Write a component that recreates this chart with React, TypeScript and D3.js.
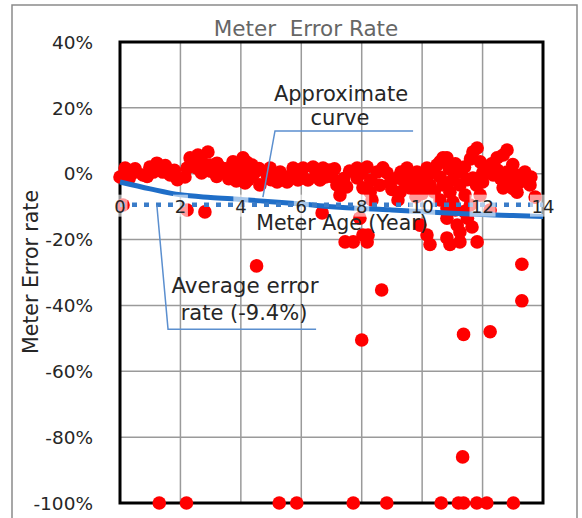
import * as d3 from "d3";
import React from "react";

// scatter: [meter age (year), error rate (%)]
const scatterPoints: [number, number][] = [
  [0.17, 1.7], [0.0, -1.0], [0.43, 0.2], [0.99, 2.0], [1.22, 3.2], [1.42, 0.5], [1.66, -0.4],
  [0.76, -0.4], [2.32, 4.8], [2.58, 5.7], [2.91, 6.6], [2.22, 1.7], [2.55, 1.7], [2.98, 2.6],
  [3.21, 3.2], [2.15, -1.0], [0.1, -9.5], [2.22, -11.0], [2.81, -11.6],
  [3.31, 2.0], [3.74, 3.6], [4.07, 4.8], [4.37, 2.6], [3.97, 0.5], [4.4, -0.4], [3.64, -0.4],
  [4.97, 1.7], [5.3, 0.5], [5.73, 1.7], [6.06, 1.7], [6.39, 2.0], [6.72, 1.7], [6.95, 1.1],
  [5.2, -2.5], [5.53, -2.5], [5.89, -1.9], [6.22, -1.9], [6.62, -1.9], [4.87, -0.4],
  [6.69, -11.9], [4.14, -2.8], [4.63, -3.4], [4.07, 1.1], [3.8, 1.7],
  [7.18, -3.4], [7.28, -6.5], [7.85, 1.7], [8.18, 2.0], [7.85, -1.3], [8.51, 0.5], [8.84, 0.2],
  [8.94, -2.8], [9.17, -1.3], [9.5, 1.7], [9.83, 0.5], [10.16, 1.7], [10.49, 2.6], [10.69, 4.8],
  [9.27, -5.6], [9.6, -4.3], [9.93, -3.4], [10.26, -3.4], [8.28, -5.6], [8.04, -4.3], [8.34, -8.0],
  [10.59, -8.0], [7.94, -13.5], [8.04, -18.6], [8.21, -18.6], [9.93, -15.6], [10.16, -18.6], [7.0, -0.8],
  [10.59, 3.6], [10.82, 4.8], [11.25, 0.5], [11.68, 6.6], [11.82, 7.8], [11.92, 3.6], [12.15, 1.7],
  [12.48, 4.8], [12.81, 7.2], [12.68, 5.7], [12.35, -0.4], [12.81, 0.5], [13.14, -0.4], [13.34, -1.3],
  [13.57, -3.4], [11.68, -1.3], [11.25, -3.4], [10.92, -5.6], [11.02, -8.6], [10.82, -10.4],
  [12.68, -4.3], [13.14, -5.6], [13.24, -2.5], [13.74, -7.1], [10.69, -3.4], [10.82, -13.5],
  [11.16, -15.6], [11.25, -17.7], [10.82, -19.5], [11.82, -20.7], [11.25, -20.7], [11.65, -16.2],
  [11.42, -6.5], [11.92, -6.5], [11.59, -9.5], [12.25, -11.0],
  [0.5, 1.5], [0.3, -1.5], [0.9, -0.8], [1.1, 0.5], [1.5, 2.5], [1.8, 1.0], [1.9, -1.8],
  [2.4, 3.0], [2.7, 3.8], [2.7, 0.2], [3.0, 0.8], [3.2, -0.8], [3.5, 1.5], [3.6, -1.5],
  [3.9, 3.0], [4.2, 3.5], [4.5, 0.8], [4.25, -1.8], [3.85, -2.2], [4.6, 1.6], [5.0, -1.8],
  [5.4, -1.0], [5.7, 0.0], [6.0, -0.5], [6.5, 0.0], [6.8, -1.0], [7.1, 1.5], [7.4, -1.5],
  [7.6, 0.8], [7.5, -4.0], [8.0, 0.2], [8.3, -2.0], [8.6, -3.5], [8.7, 1.8], [9.0, -4.8],
  [9.3, 0.5], [9.4, -2.2], [9.7, -1.0], [10.0, -1.5], [10.3, 0.3], [10.0, -6.0], [10.4, -5.5],
  [10.6, -1.0], [10.9, 1.5], [11.0, -2.0], [11.1, 3.0], [11.4, 2.0], [11.5, -1.8], [11.6, 4.5],
  [11.8, -3.5], [12.0, 0.2], [12.0, -2.5], [12.3, 3.0], [12.5, 1.0], [12.6, -1.5], [12.9, -2.2],
  [13.0, 2.8], [13.4, 0.5], [13.6, -1.0], [13.0, -4.5], [11.4, -11.5], [11.5, -13.5],
  [11.1, -11.0], [9.8, -7.0], [9.2, -8.0],
  [7.45, -20.7], [7.72, -20.7], [8.18, -20.7], [10.26, -21.5], [10.92, -21.5],
  [4.52, -28], [8.66, -35.3], [13.3, -27.5], [13.3, -38.6], [8.0, -50.5], [11.37, -48.8],
  [12.25, -48], [11.34, -86],
  [1.3, -100], [2.2, -100], [5.27, -100], [5.85, -100], [7.72, -100], [8.83, -100], [10.63, -100],
  [11.2, -100], [11.37, -100], [11.81, -100], [12.14, -100], [13.02, -100],
];

const curveAges = [0, 1, 2, 3, 4, 5, 6, 7, 8, 9, 10, 11, 12, 13, 14];
const curveRates = [-2.5, -4.6, -6.4, -7.2, -7.8, -8.5, -9.2, -10, -10.6, -11, -11.5, -12, -12.4, -12.7, -13];
const averageRate = -9.4;

const xTicks = [0, 2, 4, 6, 8, 10, 12, 14];
const yTicks = [40, 20, 0, -20, -40, -60, -80, -100];

const FONT = "DejaVu Sans";

export default function App() {
  const W = 582;
  const H = 518;
  const x = d3.scaleLinear().domain([0, 14]).range([120, 543]);
  const y = d3.scaleLinear().domain([-100, 40]).range([503, 42]);

  const curve = d3
    .line<number>()
    .x((d) => x(curveAges[d]))
    .y((d) => y(curveRates[d]))
    .curve(d3.curveMonotoneX);

  const labelY = y(averageRate);

  // callout anchors in data units
  const approxCallout: [number, number][] = [[4.73, -7.1], [5.13, 13], [9.7, 13]];
  const avgCallout: [number, number][] = [[1.22, -9.6], [1.59, -47.2], [6.49, -47.2]];
  const pts = (a: [number, number][]) => a.map(([a1, r]) => `${x(a1)},${y(r)}`).join(" ");

  return (
    <svg
      width={W}
      height={H}
      style={{ position: "absolute", left: 0, top: 0, background: "#fff" }}
      fontFamily={FONT}
    >
      <rect x={0} y={0} width={W} height={H} fill="#fff" />
      {/* outer frame */}
      <path d={`M12,${H} V5 H577 V${H}`} fill="none" stroke="#8a8a8a" strokeWidth={1.5} />

      <text x={306} y={36} textAnchor="middle" fontSize={21.5} fill="#666" style={{ whiteSpace: "pre" }}>
        {"Meter  Error Rate"}
      </text>

      {/* grid */}
      {yTicks.map((t) => (
        <line key={"gy" + t} x1={x(0)} x2={x(14)} y1={y(t)} y2={y(t)} stroke="#9a9a9a" strokeWidth={1.5} />
      ))}
      {xTicks.map((t) => (
        <line key={"gx" + t} x1={x(t)} x2={x(t)} y1={y(40)} y2={y(-100)} stroke="#9a9a9a" strokeWidth={1.5} />
      ))}
      <rect x={x(0)} y={y(40)} width={x(14) - x(0)} height={y(-100) - y(40)} fill="none" stroke="#000" strokeWidth={3} />

      {/* y tick labels */}
      {yTicks.map((t) => (
        <text key={"ly" + t} x={93} y={y(t)} dy="0.36em" textAnchor="end" fontSize={18.5} fill="#262626">
          {`${t}%`}
        </text>
      ))}
      <text
        transform={`translate(38,272) rotate(-90)`}
        textAnchor="middle"
        fontSize={20.5}
        fill="#262626"
      >
        Meter Error rate
      </text>

      {/* points */}
      {scatterPoints.map(([a, r], i) => (
        <circle key={"p" + i} cx={x(a)} cy={y(r)} r={6.8} fill="#ff0000" />
      ))}

      {/* approximate curve & average */}
      <path d={curve(curveAges.map((_, i) => i)) || ""} fill="none" stroke="#1f6ec8" strokeWidth={5} />
      <line
        x1={x(0)}
        x2={x(14)}
        y1={labelY}
        y2={labelY}
        stroke="#3a7cc8"
        strokeWidth={4.5}
        strokeDasharray="5 7"
      />

      {/* x tick labels with translucent boxes */}
      {xTicks.map((t) => {
        const w = t >= 10 ? 26 : 15;
        return (
          <g key={"lx" + t}>
            <rect x={x(t) - w / 2} y={labelY - 10} width={w} height={22} fill="#fff" opacity={0.6} />
            <text x={x(t)} y={labelY + 8} textAnchor="middle" fontSize={18} fill="#262626">
              {t}
            </text>
          </g>
        );
      })}
      <text x={342} y={230} textAnchor="middle" fontSize={20.5} fill="#262626">
        Meter Age (Year)
      </text>

      {/* callouts */}
      <polyline points={pts(approxCallout)} fill="none" stroke="#5b8fcf" strokeWidth={1.5} />
      <text x={341} y={101} textAnchor="middle" fontSize={21} fill="#262626">Approximate</text>
      <text x={340} y={125} textAnchor="middle" fontSize={21} fill="#262626">curve</text>

      <polyline points={pts(avgCallout)} fill="none" stroke="#5b8fcf" strokeWidth={1.5} />
      <text x={245} y={293} textAnchor="middle" fontSize={21.5} fill="#262626">Average error</text>
      <text x={244} y={320} textAnchor="middle" fontSize={21} fill="#262626">rate (-9.4%)</text>
    </svg>
  );
}
